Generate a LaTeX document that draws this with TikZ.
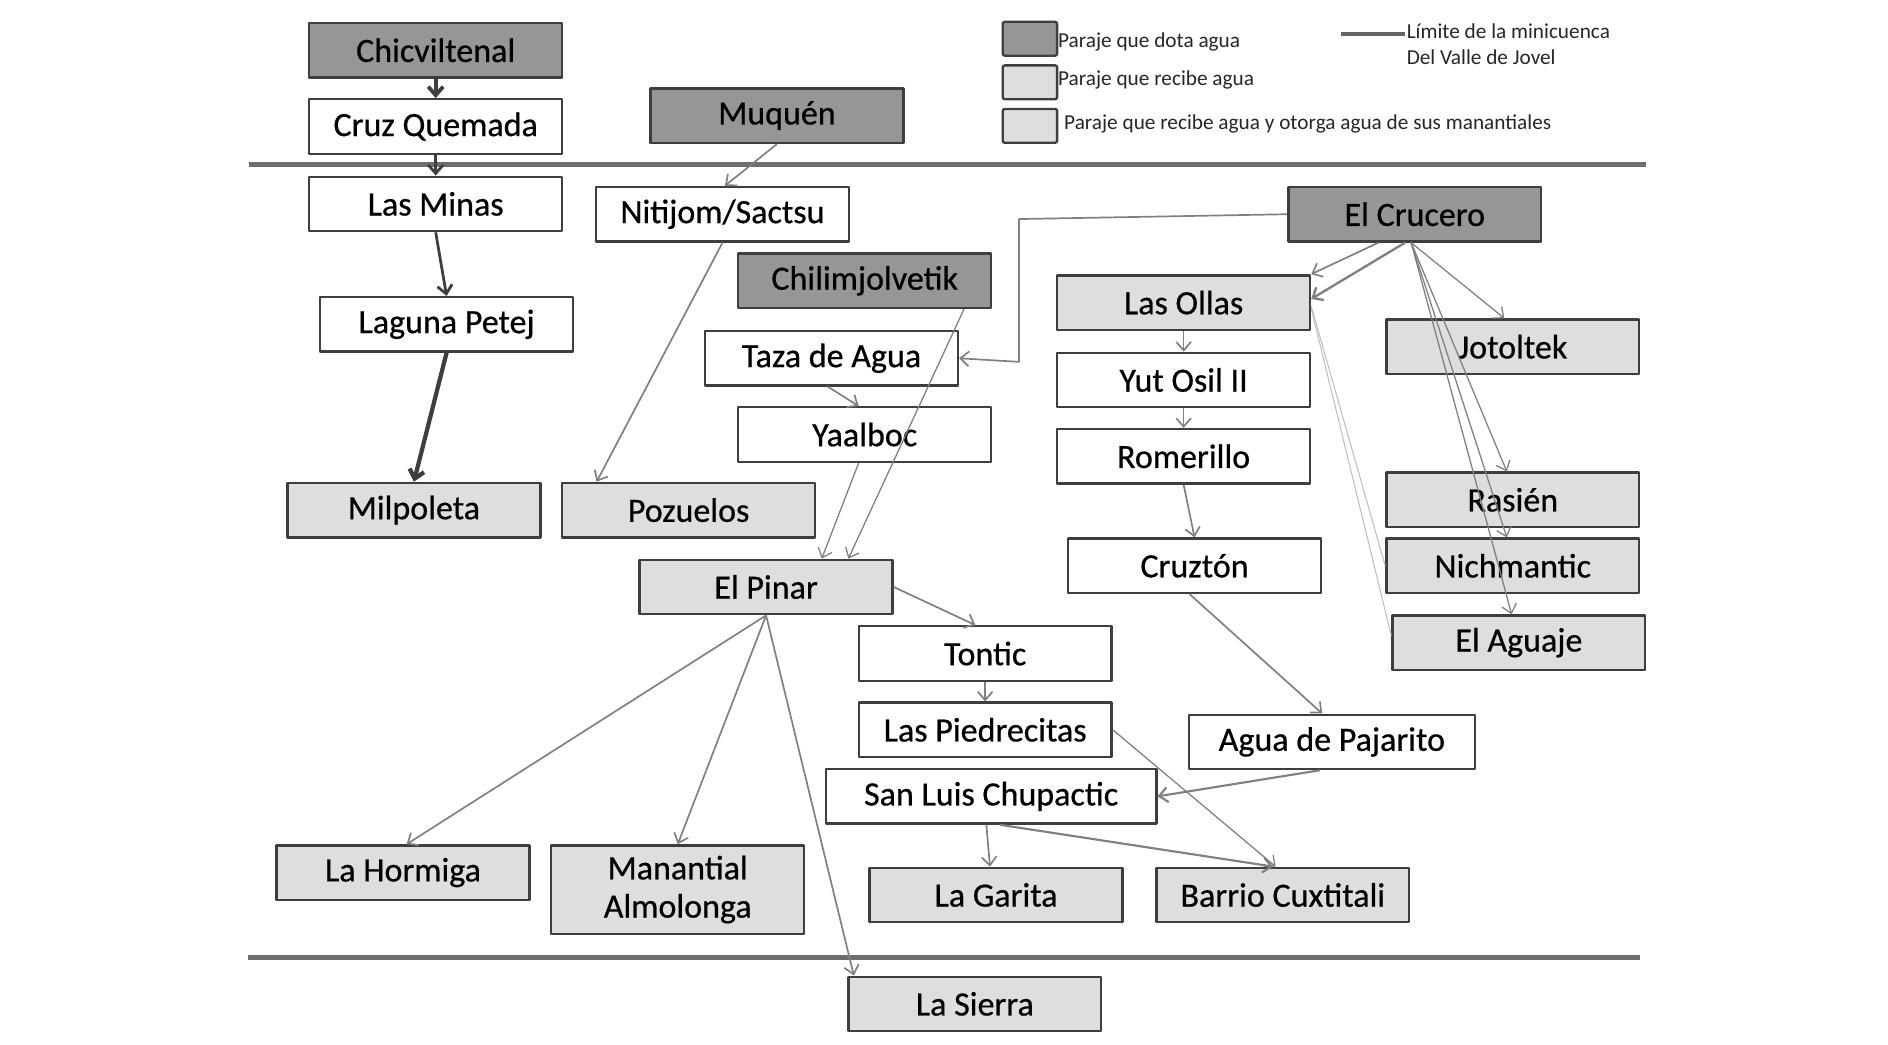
\documentclass[tikz,border=0pt]{standalone}
\usepackage{fontspec}
\setmainfont{Carlito}
\newfontfamily\cajafont{Carlito}[FakeBold=0.6]
\usetikzlibrary{arrows.meta,calc}
\definecolor{cdota}{RGB}{150,150,150}
\definecolor{crecibe}{RGB}{222,222,222}
\definecolor{cborde}{RGB}{62,62,62}
\definecolor{cflecha}{RGB}{128,128,128}
\definecolor{climite}{RGB}{110,110,110}
\begin{document}
\begin{tikzpicture}[x=0.02cm, y=-0.02cm, line join=round, >={Straight Barb[length=4pt,width=7pt]},
	paraje/.style={draw=cborde, line width=1.1pt, minimum width=4.18cm, minimum height=0.9cm, inner sep=0pt, font=\cajafont\fontsize{16}{18}\selectfont, align=center},
	dota/.style={paraje, fill=cdota},
	recibe/.style={paraje, fill=crecibe},
	blanco/.style={paraje, fill=white},
	flujo/.style={->, draw=cflecha, line width=0.8pt},
	fuerte/.style={->, draw=cborde, line width=1.3pt},
	tenue/.style={draw=black!25, line width=0.5pt},
	leyenda/.style={draw=cborde, line width=1.1pt, rounded corners=1pt, minimum width=0.9cm, minimum height=0.56cm, inner sep=0pt},
	textoley/.style={anchor=west, inner sep=0pt, font=\fontsize{10}{12}\selectfont, text=black!85}]
	\useasboundingbox (0,0) rectangle (1560,863);
	% limites de la minicuenca
	\draw[climite, line width=2.3pt] (206,136)--(1360,136);
	\draw[climite, line width=2.3pt] (205,791)--(1355,791);
	% leyenda
	\node[leyenda, fill=cdota] (ldota) at (851,32) {};
	\node[leyenda, fill=crecibe] (lrecibe) at (851,68) {};
	\node[leyenda, fill=crecibe] (lotorga) at (851,104) {};
	\node[textoley] at (874,35) {Paraje que dota agua};
	\node[textoley] at (874,66) {Paraje que recibe agua};
	\node[textoley] at (879,102) {Paraje que recibe agua y otorga agua de sus manantiales};
	\coordinate (lim1) at (1108,28);
	\coordinate (lim2) at (1161,28);
	\draw[cborde!80, line width=2pt] (lim1)--(lim2);
	\node[textoley] at (1162,26) {Límite de la minicuenca};
	\node[textoley] at (1162,47) {Del Valle de Jovel};
	% parajes
	\node[dota] (chic) at (360,41.5) {Chicviltenal};
	\node[blanco] (cruz) at (360,104.5) {Cruz Quemada};
	\node[dota] (muq) at (642,95.5) {Muquén};
	\node[blanco] (minas) at (360,168.5) {Las Minas};
	\node[blanco] (niti) at (597,177) {Nitijom/Sactsu};
	\node[dota] (cruc) at (1169,177) {El Crucero};
	\node[dota] (chil) at (714.5,232) {Chilimjolvetik};
	\node[recibe] (ollas) at (978,250) {Las Ollas};
	\node[blanco] (laguna) at (369,268) {Laguna Petej};
	\node[blanco] (taza) at (687,296) {Taza de Agua};
	\node[recibe] (joto) at (1250,286.5) {Jotoltek};
	\node[blanco] (yut) at (978,314) {Yut Osil II};
	\node[blanco] (yaal) at (714.5,359) {Yaalboc};
	\node[blanco] (rome) at (978,377) {Romerillo};
	\node[recibe] (milp) at (342,421.5) {Milpoleta};
	\node[recibe] (pozu) at (569,421.5) {Pozuelos};
	\node[recibe] (rasi) at (1250,413) {Rasién};
	\node[blanco] (cruzt) at (987,467.5) {Cruztón};
	\node[recibe] (nich) at (1250,467.5) {Nichmantic};
	\node[recibe] (pinar) at (633,485) {El Pinar};
	\node[recibe] (aguaje) at (1255,531) {El Aguaje};
	\node[blanco] (tont) at (814,540) {Tontic};
	\node[blanco] (pied) at (814,603) {Las Piedrecitas};
	\node[blanco, minimum width=4.72cm] (paja) at (1100.5,613) {Agua de Pajarito};
	\node[blanco, minimum width=5.46cm] (sanl) at (819,658) {San Luis Chupactic};
	\node[recibe] (horm) at (333,721) {La Hormiga};
	\node[recibe, minimum height=1.46cm] (mana) at (560,735) {Manantial\\Almolonga};
	\node[recibe] (gari) at (823,739.5) {La Garita};
	\node[recibe] (cuxt) at (1060,739.5) {Barrio Cuxtitali};
	\node[recibe] (sier) at (805.5,829.5) {La Sierra};
	% conexiones
	\draw[fuerte, line width=1.8pt] (chic.south)--(cruz.north);
	\draw[fuerte] (cruz.south)--(minas.north);
	\draw[fuerte] (minas.south)--(laguna.north);
	\draw[fuerte, line width=2pt] (laguna.south)--(milp.north);
	\draw[flujo] (muq.south)--($(niti.north)+(2,0)$);
	\draw[flujo] (niti.south)--($(pozu.north)+(-76,0)$);
	\draw[flujo] (cruc.west)--(842,181)--(842,299)--(taza.east);
	\draw[flujo, line width=0.6pt] ($(chil.south)+(82,0)$)--($(pinar.north)+(68,0)$);
	\draw[flujo] ($(taza.south)+(-3,0)$)--($(yaal.north)+(-5,0)$);
	\draw[flujo, line width=0.6pt] ($(yaal.south)+(-5,0)$)--($(pinar.north)+(46,0)$);
	\draw[flujo] (pinar.east)--($(tont.north)+(-8,0)$);
	\draw[flujo] (pinar.south)--($(horm.north)+(3,0)$);
	\draw[flujo] (pinar.south)--(mana.north);
	\draw[flujo] (pinar.south)--($(sier.north)+(-100,0)$);
	\draw[flujo] (tont.south)--(pied.north);
	\draw[flujo, line width=0.6pt] (pied.east)--($(cuxt.north)+(-6,0)$);
	\draw[flujo] (ollas.south)--(yut.north);
	\draw[flujo] (yut.south)--(rome.north);
	\draw[flujo] (rome.south)--(cruzt.north);
	\draw[flujo] ($(cruzt.south)+(-4,0)$)--($(paja.north)+(-8,0)$);
	\draw[flujo, line width=1pt] ($(paja.south)+(-10,0)$)--(sanl.east);
	\draw[flujo] ($(sanl.south)+(-4,0)$)--($(gari.north)+(-5,0)$);
	\draw[flujo, line width=1pt] ($(sanl.south)+(7,0)$)--($(cuxt.north)+(-8,0)$);
	\draw[flujo] ($(cruc.south)+(-30,0)$)--(ollas.north east);
	\draw[flujo, line width=1.1pt] ($(cruc.south)+(-8,0)$)--($(ollas.east)+(0,-3)$);
	\draw[flujo, line width=0.6pt] ($(cruc.south)+(-3,0)$)--($(joto.north)+(-7,0)$);
	\draw[flujo, line width=0.6pt] ($(cruc.south)+(-3,0)$)--($(rasi.north)+(-5,0)$);
	\draw[flujo, line width=0.6pt] ($(cruc.south)+(-3,0)$)--($(nich.north)+(-5,0)$);
	\draw[flujo, line width=0.6pt] ($(cruc.south)+(-3,0)$)--($(aguaje.north)+(-6,0)$);
	\draw[tenue] ($(ollas.east)+(0,3)$)--(nich.west);
	\draw[tenue] ($(ollas.east)+(0,5)$)--($(aguaje.west)+(0,-6)$);
\end{tikzpicture}
\end{document}
